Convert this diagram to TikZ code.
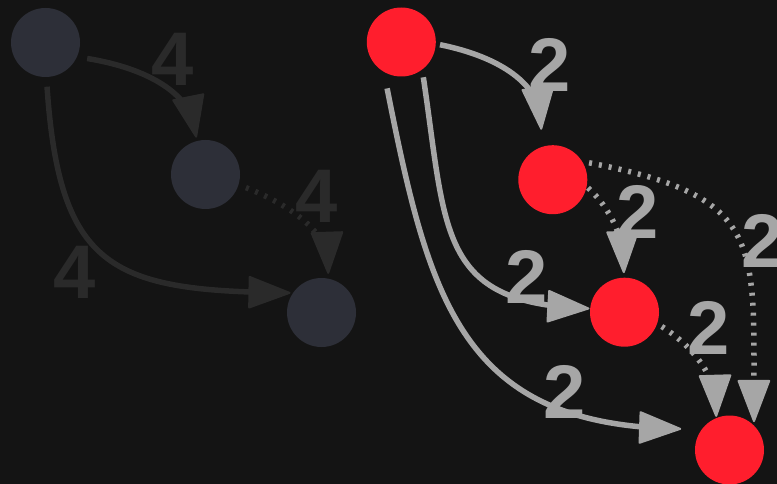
\documentclass[tikz,border=0pt]{standalone}
\usepackage{fontspec}
\setmainfont{Liberation Sans}
\usetikzlibrary{arrows.meta,decorations.markings,calc}
\definecolor{bgc}{HTML}{141414}
\definecolor{dnodec}{HTML}{2D2F38}
\definecolor{dedgec}{HTML}{2A2A2A}
\definecolor{rnodec}{HTML}{FF1E2D}
\definecolor{redgec}{HTML}{A6A6A6}
\tikzset{
  mytip/.tip={Triangle[length=44pt,width=33pt,round,line width=2pt]},
  vertex/.style={circle,fill=#1,minimum size=69pt,inner sep=0pt,outer sep=0pt},
  link/.style={color=#1,line width=5.5pt,line cap=butt,shorten >=14pt,
    postaction={decorate,decoration={markings,mark=at position 0.998 with {\arrow{mytip}}}}},
  dotline/.style={dash pattern=on 3pt off 7pt},
  weight/.style={text=#1,font=\bfseries\fontsize{76}{76}\selectfont,inner sep=0pt}
}
\begin{document}
\begin{tikzpicture}[x=1pt,y=-1pt]
\useasboundingbox[fill=bgc] (0,0) rectangle (777,484);
% left graph nodes
\node[vertex=dnodec] (A) at (45.5,42.5) {};
\node[vertex=dnodec] (B) at (205.5,174.5) {};
\node[vertex=dnodec] (C) at (321.5,312.5) {};
% right graph nodes
\node[vertex=rnodec] (R1) at (401.3,42) {};
\node[vertex=rnodec] (R2) at (552.8,179.7) {};
\node[vertex=rnodec] (R3) at (624.5,312.2) {};
\node[vertex=rnodec] (R4) at (729.5,450) {};
% left edges
\draw[link=dedgec] ($(A.center)!44.6pt!(A.-21.7)$) .. controls (151.7,69) and (188,95.3) .. ($(B.center)!37.7pt!(B.104.6)$);
\draw[link=dedgec,dotline] ($(B.center)!42.5pt!(B.-18.9)$) .. controls (299.9,208.8) and (327.2,237.3) .. ($(C.center)!39pt!(C.80.9)$);
\draw[link=dedgec] ($(A.center)!44.2pt!(A.-88.4)$) .. controls (59.3,266.7) and (111,290) .. ($(C.center)!36pt!(C.147.8)$);
% right edges
\draw[link=redgec] ($(R1.center)!38.8pt!(R1.-4.4)$) .. controls (504,57.7) and (537.7,86) .. ($(R2.center)!51pt!(R2.103.4)$);
\draw[link=redgec] ($(R1.center)!41.6pt!(R1.-58.1)$) .. controls (445.8,227.6) and (438.3,300.3) .. ($(R3.center)!34.6pt!(R3.174.7)$);
\draw[link=redgec] ($(R1.center)!48.5pt!(R1.-107.5)$) .. controls (428.8,299.2) and (461.7,421.7) .. ($(R4.center)!51.8pt!(R4.156.7)$);
\draw[link=redgec,dotline] ($(R2.center)!36.2pt!(R2.-13.7)$) .. controls (611,209) and (622.8,237.3) .. ($(R3.center)!38.9pt!(R3.91.8)$);
\draw[link=redgec,dotline] ($(R2.center)!40pt!(R2.25.2)$) .. controls (765.8,196.9) and (753.5,242) .. ($(R4.center)!36.6pt!(R4.48.7)$);
\draw[link=redgec,dotline] ($(R3.center)!39.9pt!(R3.-21.3)$) .. controls (697.2,349.1) and (715.2,379.1) .. ($(R4.center)!35.5pt!(R4.112.5)$);
% labels
\node[weight=dedgec] (w1) at (173,59) {4};
\node[weight=dedgec] (w2) at (316.5,196) {4};
\node[weight=dedgec] (w3) at (75,272.5) {4};
\node[weight=redgec] (w4) at (550,64.5) {2};
\node[weight=redgec] (w5) at (637.5,211.7) {2};
\node[weight=redgec] (w6) at (527,277) {2};
\node[weight=redgec] (w7) at (565,391.7) {2};
\node[weight=redgec] (w8) at (708.7,328.3) {2};
\node[weight=redgec] (w9) at (763,240.8) {2};
\end{tikzpicture}
\end{document}
